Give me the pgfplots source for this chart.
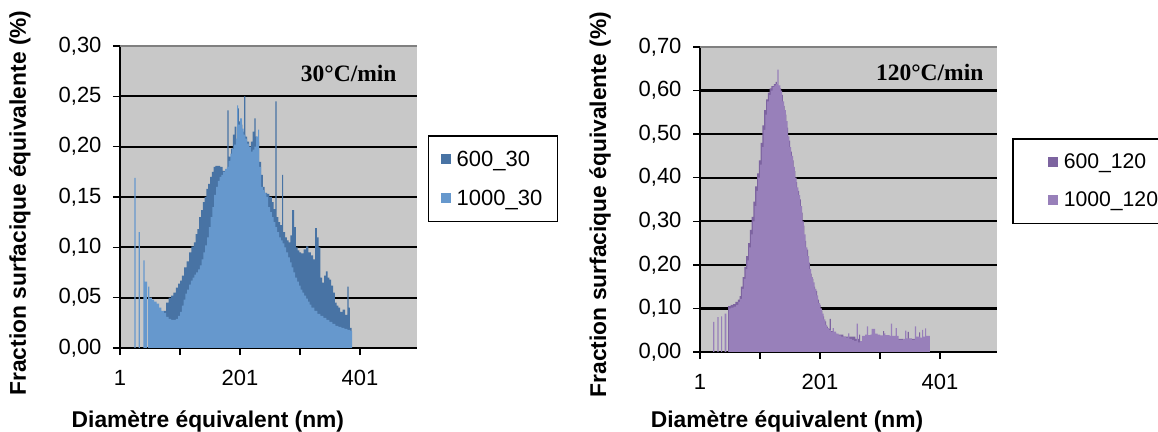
\documentclass[border=0pt]{standalone}
\usepackage{pgfplots}
\pgfplotsset{compat=1.18}
\usepackage{fontspec}
\setmainfont{Liberation Sans}
\newfontfamily\serifb{Liberation Serif}
\definecolor{bgray}{RGB}{200,200,200}
\definecolor{framegray}{RGB}{128,128,128}
\definecolor{blueD}{RGB}{72,115,164}
\definecolor{blueL}{RGB}{102,152,205}
\definecolor{purD}{RGB}{125,100,160}
\definecolor{purL}{RGB}{152,128,186}
\newcommand\tickfont{\fontsize{22bp}{25bp}\selectfont}
\newcommand\labfont{\bfseries\fontsize{22.8bp}{26bp}\selectfont}
\pgfplotsset{
 myax/.style={
  scale only axis, width=297bp,
  xmin=1, xmax=496, ymin=0,
  axis background/.style={fill=bgray},
  axis x line*=bottom, axis y line*=left,
  axis line style={black, line width=1.3bp},
  tick align=outside, major tick length=7bp,
  tick style={black, line width=1.3bp},
  xtick={1,101,201,301,401}, xticklabels={1,{},201,{},401},
  ymajorgrids, major grid style={black, line width=2.2bp},
  tick label style={font=\tickfont},
  yticklabel style={xshift=-8bp},
  xticklabel style={yshift=-12bp},
  /pgf/number format/use comma, /pgf/number format/fixed,
  /pgf/number format/fixed zerofill, /pgf/number format/precision=2,
  /pgf/number format/assume math mode=true,
  xlabel={Diamètre équivalent (nm)},
  ylabel={Fraction surfacique équivalente (\%)},
  label style={font=\labfont},
  legend cell align=left,
  legend style={draw=black, line width=1.5bp, fill=white, font=\tickfont,
    row sep=16bp, inner ysep=12bp, inner xsep=12bp, nodes={inner sep=3bp}},
 }
}
\begin{document}
\begin{tikzpicture}
\path[use as bounding box] (0,0) rectangle (1158bp,432bp);
% ---------------- left -----------------
\begin{axis}[myax, at={(120bp,84bp)}, anchor=south west, height=302bp,
  ymax=0.30, ytick={0,0.05,0.10,0.15,0.20,0.25,0.30},
  xlabel style={at={(axis description cs:0.296,-0.2616)}, anchor=base},
  ylabel style={at={(axis description cs:-0.3367,0.48)}, anchor=center},
  legend style={at={(axis description cs:1.037,0.705)}, anchor=north west}]
\addplot[const plot mark left, fill=blueD, draw=none,
  legend image code/.code={\path[draw=none,fill=none] (0bp,0bp) -- (13bp,0bp); \fill[blueD] (0bp,-5bp) rectangle (10bp,5bp);}]
 coordinates {(50,0.045)(56,0.040)(62,0.038)(68,0.036)(74,0.037)(78,0.045)(82,0.050)(86,0.052)(90,0.055)(94,0.060)(98,0.064)(101,0.067)(104,0.072)(108,0.080)(112,0.086)(116,0.095)(120,0.101)(124,0.105)(127,0.113)(130,0.118)(133,0.130)(136,0.137)(139,0.145)(142,0.150)(145,0.158)(148,0.163)(151,0.170)(154,0.175)(157,0.180)(160,0.181)(164,0.181)(168,0.180)(172,0.176)(176,0.172)(180,0.236)(182,0.190)(186,0.198)(189,0.212)(192,0.220)(195,0.205)(197,0.238)(199,0.225)(202,0.222)(205,0.215)(208,0.250)(210,0.210)(213,0.205)(216,0.200)(219,0.205)(222,0.215)(225,0.228)(227,0.210)(230,0.205)(233,0.185)(236,0.172)(239,0.160)(242,0.154)(246,0.153)(250,0.150)(254,0.145)(257,0.138)(260,0.245)(262,0.130)(265,0.125)(268,0.122)(271,0.172)(273,0.115)(276,0.110)(279,0.107)(282,0.105)(285,0.112)(288,0.137)(291,0.120)(294,0.100)(297,0.097)(300,0.095)(303,0.094)(307,0.098)(311,0.101)(315,0.095)(319,0.092)(323,0.088)(326,0.119)(329,0.110)(332,0.100)(335,0.070)(338,0.065)(341,0.072)(344,0.076)(347,0.070)(350,0.068)(353,0.062)(356,0.055)(359,0.045)(362,0.042)(365,0.040)(368,0.036)(372,0.038)(376,0.033)(380,0.061)(382,0.040)(384,0.020)(387,0)} \closedcycle;
\addlegendentry{600\_30}
\addplot[const plot mark left, fill=blueL, draw=none,
  legend image code/.code={\path[draw=none,fill=none] (0bp,0bp) -- (13bp,0bp); \fill[blueL] (0bp,-5bp) rectangle (10bp,5bp);}]
 coordinates {(24,0)(25,0.169)(27,0)(32,0.115)(34,0)(40,0.087)(42,0.066)(46,0)(48,0.061)(50,0.050)(54,0.048)(58,0.046)(62,0.044)(66,0.040)(70,0.037)(74,0.035)(78,0.031)(82,0.029)(86,0.028)(90,0.028)(94,0.029)(98,0.032)(101,0.036)(104,0.042)(107,0.048)(110,0.054)(113,0.058)(116,0.063)(119,0.067)(122,0.070)(125,0.073)(128,0.075)(131,0.078)(134,0.082)(137,0.088)(140,0.095)(143,0.102)(146,0.110)(149,0.120)(152,0.130)(155,0.140)(158,0.152)(161,0.160)(164,0.166)(167,0.170)(170,0.172)(173,0.175)(176,0.178)(179,0.180)(182,0.186)(185,0.193)(188,0.198)(191,0.202)(194,0.208)(196,0.241)(198,0.222)(201,0.228)(204,0.218)(207,0.212)(210,0.208)(213,0.203)(216,0.200)(219,0.195)(222,0.197)(225,0.200)(228,0.210)(231,0.217)(233,0.180)(236,0.160)(239,0.157)(242,0.154)(245,0.150)(248,0.140)(251,0.135)(254,0.130)(257,0.125)(260,0.120)(263,0.115)(266,0.110)(269,0.107)(272,0.104)(275,0.100)(278,0.095)(281,0.090)(284,0.085)(287,0.080)(290,0.075)(293,0.070)(296,0.066)(299,0.062)(302,0.058)(305,0.055)(308,0.052)(311,0.049)(314,0.046)(317,0.043)(320,0.040)(325,0.037)(330,0.034)(335,0.032)(340,0.030)(345,0.028)(350,0.026)(355,0.024)(360,0.022)(365,0.021)(370,0.020)(375,0.019)(380,0.018)(385,0.017)(388,0)} \closedcycle;
\addlegendentry{1000\_30}
\draw[framegray, line width=2.2bp] (rel axis cs:0,1) -- (rel axis cs:1,1);
\node[anchor=base east, font=\serifb\bfseries\fontsize{23.5bp}{26bp}\selectfont] at (rel axis cs:0.943,0.884) {30°C/min};
\end{axis}
% ---------------- right -----------------
\begin{axis}[myax, at={(700bp,80bp)}, anchor=south west, height=305bp,
  ymax=0.70, ytick={0,0.10,0.20,0.30,0.40,0.50,0.60,0.70},
  xlabel style={at={(axis description cs:0.293,-0.248)}, anchor=base},
  ylabel style={at={(axis description cs:-0.3367,0.483)}, anchor=center},
  legend style={at={(axis description cs:1.0505,0.7016)}, anchor=north west,
    font=\fontsize{21.2bp}{24bp}\selectfont}]
\addplot[const plot mark left, fill=purD, draw=none,
  legend image code/.code={\path[draw=none,fill=none] (-23bp,0bp) -- (13bp,0bp); \fill[purD] (0bp,-5bp) rectangle (10bp,5bp);}]
 coordinates {(48,0.105)(52,0.108)(56,0.110)(60,0.115)(64,0.120)(67,0.128)(69,0.150)(72,0.172)(75,0.195)(78,0.220)(81,0.250)(84,0.280)(87,0.310)(90,0.345)(93,0.380)(96,0.410)(99,0.440)(102,0.480)(105,0.520)(108,0.555)(111,0.580)(114,0.595)(117,0.605)(120,0.610)(124,0.615)(127,0.620)(129,0.610)(133,0.605)(136,0.590)(139,0.565)(142,0.545)(145,0.515)(148,0.485)(151,0.460)(154,0.440)(157,0.415)(160,0.390)(163,0.370)(166,0.350)(169,0.320)(172,0.290)(175,0.255)(178,0.235)(181,0.205)(184,0.180)(187,0.168)(190,0.150)(193,0.140)(196,0.120)(199,0.108)(202,0.095)(205,0.082)(208,0.070)(211,0.058)(214,0.053)(217,0.076)(219,0.048)(224,0.044)(228,0.040)(240,0.035)(260,0.030)(266,0.040)(268,0.022)(300,0.035)(306,0.048)(308,0.036)(330,0.030)(340,0.025)(347,0.046)(349,0.030)(366,0.045)(368,0.030)(384,0)} \closedcycle;
\addlegendentry{600\_120}
\addplot[const plot mark left, fill=purL, draw=none,
  legend image code/.code={\path[draw=none,fill=none] (-23bp,0bp) -- (13bp,0bp); \fill[purL] (0bp,-5bp) rectangle (10bp,5bp);}]
 coordinates {(22,0)(23,0.069)(25,0)(30,0.080)(32,0)(36,0.082)(38,0)(42,0.088)(45,0)(49,0.100)(53,0.102)(57,0.104)(61,0.108)(65,0.115)(68,0.122)(71,0.145)(74,0.168)(77,0.190)(80,0.210)(83,0.240)(86,0.270)(89,0.300)(92,0.335)(95,0.370)(98,0.400)(101,0.430)(104,0.470)(107,0.510)(110,0.545)(113,0.575)(116,0.590)(119,0.600)(122,0.608)(125,0.612)(128,0.615)(130,0.648)(132,0.612)(135,0.600)(138,0.575)(141,0.555)(144,0.530)(147,0.495)(150,0.470)(153,0.450)(156,0.425)(159,0.400)(162,0.378)(165,0.360)(168,0.335)(171,0.300)(174,0.270)(177,0.240)(180,0.220)(183,0.190)(186,0.172)(189,0.160)(192,0.145)(195,0.130)(198,0.112)(201,0.100)(204,0.088)(207,0.075)(210,0.062)(213,0.055)(216,0.050)(219,0.046)(222,0.055)(224,0.047)(228,0.042)(232,0.038)(236,0.035)(240,0.035)(244,0.033)(248,0.043)(250,0.030)(254,0.028)(258,0.025)(262,0.065)(264,0.022)(268,0.025)(271,0.037)(276,0.040)(279,0.059)(281,0.039)(285,0.040)(287,0.053)(293,0.042)(297,0.040)(301,0.038)(307,0.043)(310,0.039)(317,0.037)(319,0.065)(321,0.037)(327,0.055)(329,0.037)(332,0.028)(340,0.030)(343,0.049)(345,0.031)(354,0.028)(359,0.059)(361,0.035)(368,0.033)(371,0.051)(373,0.035)(376,0.054)(378,0.037)(384,0)} \closedcycle;
\addlegendentry{1000\_120}
\draw[framegray, line width=2.2bp] (rel axis cs:0,1) -- (rel axis cs:1,1);
\node[anchor=base east, font=\serifb\bfseries\fontsize{23.5bp}{26bp}\selectfont] at (rel axis cs:0.966,0.889) {120°C/min};
\end{axis}
\end{tikzpicture}
\end{document}
